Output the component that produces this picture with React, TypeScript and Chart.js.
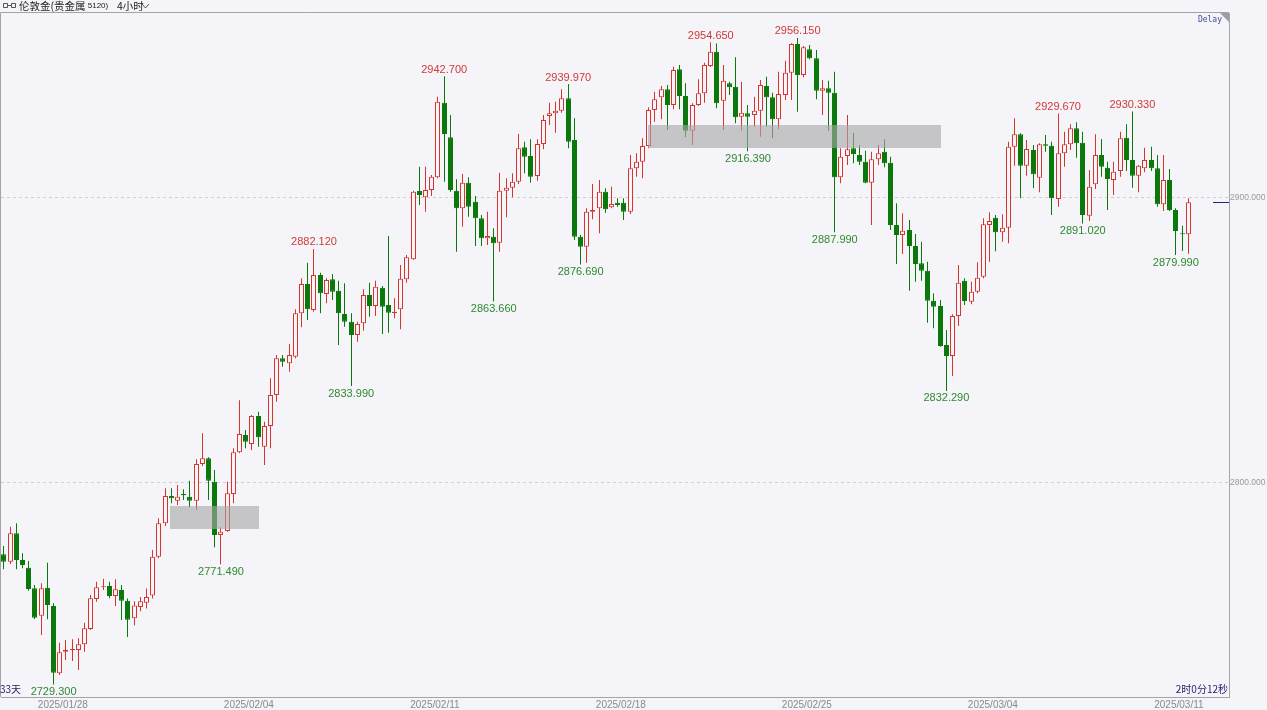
import { useEffect, useRef } from 'react';
import { Chart, registerables } from 'chart.js';

Chart.register(...registerables);

// 4-hour London gold candles (index 0 = first bar on screen)
const OPEN = [
  2774.97, 2772.39, 2782.33, 2772.98, 2770.29, 2763.04, 2753.44, 2763.27, 2756.84, 2733.21,
  2740.81, 2741.4, 2741.4, 2743.39, 2748.77, 2759.29, 2763.4, 2763.86, 2760.35, 2762.45,
  2758.7, 2752.5, 2756.5, 2758.0, 2760.5, 2774.15, 2785.84, 2795.43, 2793.8, 2796.13,
  2795.2, 2793.8, 2806.66, 2808.65, 2800.46, 2781.75, 2783.15, 2796.13, 2810.75, 2816.84,
  2813.68, 2823.51, 2812.75, 2820.0, 2830.87, 2843.74, 2841.99, 2844.32, 2859.53, 2869.82,
  2860.7, 2872.98, 2866.31, 2871.46, 2867.48, 2859.3, 2856.61, 2851.93, 2856.02, 2865.96,
  2862.1, 2868.54, 2862.45, 2859.53, 2860.93, 2871.46, 2878.48, 2902.45, 2900.23, 2902.81,
  2907.25, 2933.45, 2921.29, 2902.57, 2896.37, 2905.38, 2898.71, 2892.86, 2885.85, 2886.43,
  2884.33, 2902.57, 2903.62, 2905.73, 2917.78, 2914.74, 2907.72, 2918.95, 2928.77, 2929.71,
  2930.64, 2934.97, 2920.35, 2886.43, 2882.92, 2895.2, 2896.37, 2902.22, 2896.72, 2898.36,
  2898.36, 2895.2, 2910.4, 2912.74, 2918.24, 2930.87, 2935.32, 2938.12, 2932.63, 2945.14,
  2935.78, 2923.62, 2932.63, 2936.72, 2946.31, 2951.34, 2934.15, 2940.23, 2939.06, 2928.53,
  2929.7, 2929.12, 2930.64, 2939.29, 2935.32, 2927.6, 2936.13, 2943.97, 2954.03, 2943.15,
  2952.16, 2949.0, 2937.65, 2938.47, 2936.95, 2907.25, 2914.73, 2917.42, 2915.08, 2912.74,
  2905.37, 2913.56, 2916.25, 2912.39, 2890.52, 2887.01, 2888.76, 2883.15, 2877.07, 2874.5,
  2863.97, 2862.1, 2848.41, 2844.55, 2858.59, 2871.0, 2863.62, 2867.13, 2872.4, 2890.52,
  2893.1, 2887.95, 2889.59, 2918.01, 2922.34, 2911.34, 2916.84, 2907.13, 2918.83, 2918.36,
  2899.65, 2915.67, 2918.83, 2924.44, 2919.42, 2893.8, 2904.79, 2915.09, 2910.64, 2906.31,
  2909.47, 2921.17, 2913.33, 2907.84, 2910.41, 2913.33, 2910.41, 2897.78, 2906.31, 2895.79,
  2887.6, 2887.25,
];
const HIGH = [
  2777.89, 2784.67, 2785.84, 2775.32, 2772.63, 2764.21, 2764.79, 2772.04, 2757.77, 2743.97,
  2744.9, 2745.14, 2745.49, 2751.0, 2760.7, 2765.38, 2766.4, 2765.38, 2766.2, 2764.21,
  2759.5, 2758.5, 2760.0, 2763.0, 2776.49, 2787.6, 2798.12, 2798.12, 2799.29, 2797.77,
  2800.81, 2808.3, 2817.42, 2809.0, 2804.56, 2784.44, 2800.46, 2812.16, 2829.0, 2818.59,
  2823.86, 2825.03, 2821.52, 2836.72, 2844.91, 2844.91, 2848.77, 2860.93, 2871.81, 2877.31,
  2882.12, 2873.8, 2871.81, 2873.33, 2870.99, 2870.06, 2859.53, 2856.61, 2867.95, 2870.29,
  2870.99, 2869.12, 2886.66, 2864.79, 2876.49, 2880.0, 2902.57, 2911.0, 2911.0, 2908.07,
  2935.55, 2942.7, 2929.12, 2906.55, 2908.42, 2907.25, 2900.7, 2894.03, 2895.2, 2889.36,
  2908.89, 2906.9, 2908.65, 2922.45, 2919.77, 2920.58, 2920.58, 2929.12, 2933.45, 2933.8,
  2938.13, 2939.97, 2927.95, 2887.01, 2896.37, 2904.91, 2906.31, 2903.39, 2903.97, 2899.88,
  2899.88, 2915.08, 2915.67, 2920.93, 2931.81, 2937.3, 2939.29, 2939.64, 2946.08, 2946.66,
  2940.23, 2933.21, 2941.63, 2947.48, 2954.65, 2954.2, 2946.66, 2940.81, 2949.35, 2940.81,
  2932.63, 2935.55, 2941.4, 2942.57, 2936.95, 2944.32, 2948.18, 2954.26, 2956.15, 2953.33,
  2953.68, 2951.92, 2941.4, 2941.16, 2944.32, 2917.43, 2929.1, 2922.92, 2918.59, 2916.6,
  2916.25, 2918.59, 2920.58, 2914.5, 2898.12, 2894.61, 2892.27, 2887.36, 2884.67, 2877.65,
  2866.54, 2864.2, 2853.68, 2859.17, 2876.49, 2871.81, 2870.64, 2877.43, 2892.87, 2894.97,
  2894.03, 2894.27, 2919.77, 2927.95, 2922.69, 2920.35, 2918.6, 2919.18, 2922.1, 2919.77,
  2929.67, 2923.27, 2925.85, 2926.55, 2923.27, 2909.82, 2922.34, 2920.7, 2912.75, 2912.75,
  2923.27, 2925.85, 2930.33, 2911.6, 2917.66, 2918.01, 2915.09, 2915.09, 2910.17, 2896.37,
  2890.29, 2899.88,
];
const LOW = [
  2769.7, 2771.57, 2769.7, 2770.05, 2762.22, 2752.27, 2746.66, 2752.16, 2729.3, 2732.63,
  2737.89, 2737.54, 2734.38, 2740.81, 2748.42, 2758.36, 2762.45, 2759.53, 2756.84, 2751.93,
  2746.0, 2750.0, 2755.0, 2756.0, 2759.5, 2773.56, 2784.91, 2792.86, 2792.28, 2794.03,
  2791.46, 2790.52, 2805.96, 2794.03, 2777.42, 2771.49, 2782.92, 2792.86, 2810.4, 2812.16,
  2811.58, 2812.75, 2806.31, 2812.16, 2828.54, 2840.82, 2839.06, 2843.74, 2854.62, 2857.19,
  2860.11, 2859.53, 2863.04, 2864.21, 2848.42, 2854.85, 2833.99, 2849.59, 2853.45, 2858.36,
  2858.59, 2852.28, 2852.75, 2857.77, 2853.92, 2870.29, 2878.25, 2897.54, 2895.2, 2900.7,
  2906.9, 2905.73, 2902.22, 2881.17, 2889.94, 2893.45, 2883.16, 2883.16, 2883.51, 2863.66,
  2881.17, 2893.22, 2900.23, 2904.91, 2908.65, 2905.38, 2906.08, 2917.07, 2925.61, 2922.92,
  2929.94, 2917.43, 2885.26, 2876.69, 2877.31, 2892.51, 2887.6, 2894.85, 2896.37, 2896.96,
  2892.27, 2894.38, 2907.48, 2906.9, 2917.42, 2926.78, 2927.6, 2923.85, 2931.1, 2931.1,
  2921.28, 2918.59, 2932.27, 2933.44, 2946.0, 2931.46, 2923.85, 2936.14, 2926.19, 2923.62,
  2916.39, 2925.02, 2921.51, 2925.02, 2920.93, 2924.09, 2934.38, 2934.38, 2930.29, 2942.33,
  2948.65, 2934.61, 2929.12, 2923.62, 2887.99, 2905.14, 2911.57, 2912.16, 2911.57, 2905.14,
  2890.52, 2911.57, 2910.75, 2888.76, 2876.83, 2880.34, 2867.48, 2870.63, 2870.99, 2856.25,
  2854.26, 2847.83, 2832.29, 2837.54, 2855.08, 2862.45, 2862.69, 2866.55, 2871.81, 2877.66,
  2881.28, 2884.68, 2884.09, 2911.34, 2899.88, 2907.84, 2903.39, 2901.99, 2916.26, 2894.03,
  2896.96, 2910.99, 2916.84, 2914.15, 2891.02, 2891.93, 2903.16, 2907.48, 2895.79, 2901.05,
  2907.48, 2909.47, 2903.63, 2901.99, 2909.0, 2909.47, 2896.96, 2895.44, 2895.44, 2879.99,
  2881.4, 2880.4,
];
const CLOSE = [
  2772.39, 2782.33, 2772.98, 2771.22, 2762.8, 2752.74, 2763.04, 2757.19, 2733.44, 2740.58,
  2741.51, 2741.6, 2743.39, 2749.0, 2759.53, 2763.39, 2763.8, 2760.35, 2762.68, 2758.71,
  2752.0, 2757.0, 2758.5, 2760.0, 2774.15, 2785.84, 2795.43, 2794.61, 2795.2, 2795.67,
  2793.8, 2806.66, 2808.65, 2800.81, 2781.75, 2782.92, 2796.37, 2810.75, 2817.19, 2814.5,
  2823.51, 2816.02, 2820.0, 2830.87, 2843.74, 2842.57, 2844.91, 2859.53, 2869.82, 2860.93,
  2872.98, 2866.55, 2871.23, 2867.13, 2859.53, 2856.61, 2851.93, 2855.79, 2865.96, 2862.1,
  2868.89, 2861.87, 2859.76, 2860.11, 2871.7, 2879.18, 2902.22, 2901.05, 2902.81, 2907.48,
  2933.8, 2922.45, 2902.81, 2896.37, 2905.38, 2896.96, 2892.86, 2885.85, 2886.66, 2884.09,
  2902.57, 2903.62, 2905.73, 2917.43, 2914.5, 2907.48, 2918.95, 2927.37, 2929.71, 2930.64,
  2934.97, 2919.77, 2886.43, 2882.92, 2895.2, 2895.79, 2902.22, 2896.02, 2897.89, 2897.54,
  2895.2, 2910.4, 2912.74, 2918.24, 2930.87, 2934.61, 2938.12, 2932.63, 2944.91, 2935.78,
  2923.62, 2932.63, 2936.72, 2946.66, 2951.34, 2933.21, 2941.16, 2938.82, 2928.3, 2929.94,
  2928.53, 2930.64, 2939.64, 2935.32, 2927.6, 2936.49, 2943.97, 2954.03, 2943.15, 2952.86,
  2949.0, 2937.65, 2938.47, 2936.95, 2907.25, 2914.5, 2917.07, 2915.43, 2912.74, 2905.37,
  2913.56, 2915.66, 2912.16, 2890.52, 2887.01, 2888.53, 2883.15, 2876.83, 2874.5, 2863.97,
  2861.86, 2848.06, 2844.55, 2858.59, 2870.29, 2863.9, 2867.13, 2872.05, 2890.76, 2891.93,
  2887.95, 2889.59, 2918.01, 2922.34, 2911.34, 2917.19, 2908.3, 2918.83, 2918.36, 2899.88,
  2915.67, 2918.83, 2924.44, 2919.18, 2894.03, 2903.98, 2915.09, 2910.99, 2906.67, 2909.24,
  2920.94, 2913.33, 2907.84, 2911.34, 2913.33, 2910.41, 2897.78, 2906.31, 2895.79, 2888.42,
  2887.25, 2898.48,
];

// Weekly date ticks (bar positions) and their labels
const DATE_TICK_POS = [9.5, 39.5, 69.5, 99.5, 129.5, 159.5, 189.5];
const DATE_LABELS = ['2025/01/28', '2025/02/04', '2025/02/11', '2025/02/18', '2025/02/25', '2025/03/04', '2025/03/11'];
const PRICE_TICKS = [2800, 2900];

// Bars whose high / low gets a value tag
const HIGH_TAGS = [50, 71, 91, 114, 128, 170, 182];
const LOW_TAGS = [8, 35, 56, 79, 93, 120, 134, 152, 174, 189];

// Shaded price zones: bar range and price range
const ZONE_FROM = [26.8, 103.9];
const ZONE_TO = [41.1, 151.1];
const ZONE_TOP = [2792.0, 2925.6];
const ZONE_BOTTOM = [2783.8, 2917.6];

const BG = '#f4f4f9';
const UP = '#d6352f';
const DOWN = '#0a780a';
const FRAME = '#a3a3a8';

const overlay = {
  id: 'overlay',
  beforeDraw(chart: any) {
    const { ctx, width, height } = chart;
    ctx.save();
    ctx.fillStyle = BG;
    ctx.fillRect(0, 0, width, height);
    ctx.restore();
  },
  beforeDatasetsDraw(chart: any) {
    // snap candles to the pixel grid so bodies and wicks stay crisp
    chart.data.datasets.forEach((_: any, di: number) => {
      chart.getDatasetMeta(di).data.forEach((el: any) => {
        el.x = Math.floor(el.x) + 0.5;
      });
    });
  },
  afterDatasetsDraw(chart: any) {
    const { ctx, chartArea } = chart;
    const xs = chart.scales.x;
    const ys = chart.scales.y;
    ctx.save();
    // zones
    ctx.fillStyle = 'rgba(168,168,168,0.62)';
    for (let k = 0; k < ZONE_FROM.length; k++) {
      const x0 = Math.round(xs.getPixelForValue(ZONE_FROM[k]));
      const x1 = Math.round(xs.getPixelForValue(ZONE_TO[k]));
      const y0 = Math.round(ys.getPixelForValue(ZONE_TOP[k]));
      const y1 = Math.round(ys.getPixelForValue(ZONE_BOTTOM[k]));
      ctx.fillRect(x0, y0, x1 - x0, y1 - y0);
    }
    // high / low tags
    ctx.font = '11px "Liberation Sans", Arial, sans-serif';
    ctx.textAlign = 'center';
    ctx.fillStyle = '#cf3a36';
    ctx.textBaseline = 'bottom';
    HIGH_TAGS.forEach((i) => {
      ctx.fillText(HIGH[i].toFixed(3), xs.getPixelForValue(i), ys.getPixelForValue(HIGH[i]) - 1);
    });
    ctx.fillStyle = '#2f8a2f';
    ctx.textBaseline = 'top';
    LOW_TAGS.forEach((i) => {
      ctx.fillText(LOW[i].toFixed(3), xs.getPixelForValue(i), ys.getPixelForValue(LOW[i]) + 2);
    });
    // last price marker
    const last = CLOSE[CLOSE.length - 1];
    const yl = Math.round(ys.getPixelForValue(last)) + 0.5;
    ctx.strokeStyle = '#1c2a7a';
    ctx.lineWidth = 1;
    ctx.beginPath();
    ctx.moveTo(chartArea.right - 16, yl);
    ctx.lineTo(chartArea.right, yl);
    ctx.stroke();
    ctx.restore();
  },
  afterDraw(chart: any) {
    const { ctx, chartArea } = chart;
    const { left, top, right, bottom } = chartArea;
    ctx.save();
    // frame
    ctx.strokeStyle = FRAME;
    ctx.lineWidth = 1;
    ctx.beginPath();
    ctx.moveTo(left - 0.5, bottom);
    ctx.lineTo(left - 0.5, top - 0.5);
    ctx.lineTo(right, top - 0.5);
    ctx.stroke();
    // corner flag + Delay
    ctx.fillStyle = '#9c9ca4';
    ctx.beginPath();
    ctx.moveTo(right - 9, top);
    ctx.lineTo(right, top);
    ctx.lineTo(right, top + 9);
    ctx.closePath();
    ctx.fill();
    ctx.fillStyle = '#3b4f94';
    ctx.font = '8px "DejaVu Sans Mono", monospace';
    ctx.textAlign = 'right';
    ctx.textBaseline = 'middle';
    ctx.fillText('Delay', right - 7, top + 7);
    // title line
    ctx.strokeStyle = '#555';
    ctx.beginPath();
    ctx.rect(3.5, 3.5, 4, 4);
    ctx.moveTo(7.5, 5.5);
    ctx.lineTo(11.5, 5.5);
    ctx.rect(11.5, 3.5, 4, 4);
    ctx.stroke();
    ctx.fillStyle = '#222';
    ctx.textAlign = 'left';
    ctx.textBaseline = 'middle';
    ctx.font = '10.5px "Noto Sans CJK SC", sans-serif';
    ctx.fillText('伦敦金(贵金属', 19, 6);
    const w = ctx.measureText('伦敦金(贵金属').width;
    ctx.font = '8px "Liberation Sans", sans-serif';
    ctx.fillText(' 5120)', 19 + w, 6);
    ctx.font = '10.5px "Noto Sans CJK SC", sans-serif';
    ctx.fillText('4小时', 117, 6);
    ctx.beginPath();
    ctx.moveTo(142, 4);
    ctx.lineTo(145.5, 8);
    ctx.lineTo(149, 4);
    ctx.stroke();
    // bottom captions
    ctx.fillStyle = '#27276b';
    ctx.font = '10px "Noto Sans CJK SC", sans-serif';
    ctx.textBaseline = 'middle';
    ctx.textAlign = 'left';
    ctx.fillText('33天', 0, bottom - 8);
    ctx.textAlign = 'right';
    ctx.fillText('2时0分12秒', right - 1, bottom - 8);
    ctx.restore();
  },
};

export default function App() {
  const ref = useRef<HTMLCanvasElement | null>(null);

  useEffect(() => {
    if (!ref.current) return;
    const idx = OPEN.map((_, i) => i);
    const isUp = idx.map((i) => CLOSE[i] >= OPEN[i]);
    const chart = new Chart(ref.current, {
      type: 'bar',
      data: {
        datasets: [
          {
            label: 'body',
            data: idx.map((i) => ({ x: i, y: [OPEN[i], CLOSE[i]] })) as any,
            backgroundColor: idx.map((i) => (isUp[i] ? BG : DOWN)),
            borderColor: idx.map((i) => (isUp[i] ? UP : DOWN)),
            borderWidth: 1,
            borderSkipped: false,
            barThickness: 5,
            minBarLength: 1,
            inflateAmount: 0,
            grouped: false,
          } as any,
          {
            label: 'wick',
            data: idx.map((i) => ({ x: i, y: [LOW[i], HIGH[i]] })) as any,
            backgroundColor: idx.map((i) => (isUp[i] ? UP : DOWN)),
            borderWidth: 0,
            barThickness: 1,
            inflateAmount: 0,
            grouped: false,
          } as any,
        ],
      },
      options: {
        animation: false,
        responsive: false,
        maintainAspectRatio: false,
        layout: { padding: { left: 1, top: 13, right: 0, bottom: 0 } },
        plugins: { legend: { display: false }, tooltip: { enabled: false } },
        scales: {
          x: {
            type: 'linear',
            min: -0.48,
            max: 197.58,
            offset: false,
            grid: { display: false, drawTicks: false },
            border: { display: true, color: FRAME },
            ticks: {
              autoSkip: false,
              maxRotation: 0,
              padding: 2,
              color: '#8a8a8a',
              font: { family: '"Liberation Sans", Arial, sans-serif', size: 10 },
              callback: (_v: any, i: number) => DATE_LABELS[i],
            },
            afterBuildTicks: (s: any) => {
              s.ticks = DATE_TICK_POS.map((v) => ({ value: v }));
            },
            afterFit: (s: any) => {
              s.height = 13;
            },
          },
          y: {
            position: 'right',
            min: 2724.91,
            max: 2964.91,
            grid: { color: '#cdcdd2', drawTicks: false },
            border: { display: true, color: FRAME, dash: [3, 3] },
            ticks: {
              padding: 1,
              color: '#9a9a9a',
              font: { family: '"Liberation Sans", Arial, sans-serif', size: 8.5 },
              callback: (v: any) => Number(v).toFixed(3),
            },
            afterBuildTicks: (s: any) => {
              s.ticks = PRICE_TICKS.map((v) => ({ value: v }));
            },
            afterFit: (s: any) => {
              s.width = 38;
            },
          },
        },
      } as any,
      plugins: [overlay],
    });
    return () => chart.destroy();
  }, []);

  return (
    <div style={{ position: 'absolute', left: 0, top: 0, width: 1267, height: 710, background: BG }}>
      <canvas ref={ref} width={1267} height={710} style={{ display: 'block', width: 1267, height: 710 }} />
    </div>
  );
}
